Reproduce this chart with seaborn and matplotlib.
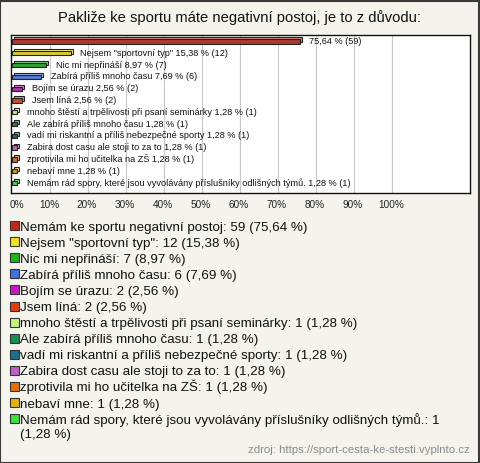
"""
Pakliže ke sportu máte negativní postoj - vodorovný sloupcový graf s legendou
"""

import matplotlib.pyplot as plt
from matplotlib.patches import Rectangle
import seaborn as sns

# data z obrázku
categories = [
    "Nemám ke sportu negativní postoj",
    'Nejsem "sportovní typ"',
    "Nic mi nepřináší",
    "Zabírá příliš mnoho času",
    "Bojím se úrazu",
    "Jsem líná",
    "mnoho štěstí a trpělivosti při psaní seminárky",
    "Ale zabírá příliš mnoho času",
    "vadí mi riskantní a příliš nebezpečné sporty",
    "Zabira dost casu ale stoji to za to",
    "zprotivila mi ho učitelka na ZŠ",
    "nebaví mne",
    "Nemám rád spory, které jsou vyvolávány příslušníky odlišných týmů.",
]
counts = [59, 12, 7, 6, 2, 2, 1, 1, 1, 1, 1, 1, 1]
percents = [75.64, 15.38, 8.97, 7.69, 2.56, 2.56, 1.28, 1.28, 1.28, 1.28, 1.28, 1.28, 1.28]
colors = [
    "#c0281c", "#f2e21c", "#1cb41c", "#4070e0", "#c41cc4", "#e0400c",
    "#c4f47c", "#1c8c50", "#1c7088", "#c060c4", "#e0700c", "#e4b00c", "#40e040",
]
tick_values = [0, 10, 20, 30, 40, 50, 60, 70, 80, 90, 100]
tick_labels = ["0%", "10%", "20%", "30%", "40%", "50%", "60%", "70%", "80%", "90%", "100%"]

title = "Pakliže ke sportu máte negativní postoj, je to z důvodu:"
source = "zdroj: https://sport-cesta-ke-stesti.vyplnto.cz"

W, H = 480, 463
BG = "#f4f3ec"


def fmt(v):
    return f"{v:.2f}".replace(".", ",")


def lighten(c, amount=0.45):
    r, g, b = [int(c[i:i + 2], 16) / 255 for i in (1, 3, 5)]
    return (r + (1 - r) * amount, g + (1 - g) * amount, b + (1 - b) * amount)


sns.set_style("white")
plt.rcParams["font.family"] = ["Liberation Sans", "DejaVu Sans"]

fig = plt.figure(figsize=(W / 100, H / 100), dpi=100)
fig.patch.set_facecolor(BG)

# oblast grafu
ax = fig.add_axes([11 / W, 1 - 193 / H, 459 / W, 158 / H])
ax.set_facecolor("white")

pos = list(range(len(categories)))

# "3D" hloubka sloupců - posunutý světlejší obdélník za sloupcem
ax.barh([p - 0.16 for p in pos], percents, left=0.55, height=0.36,
        color=[lighten(c) for c in colors], edgecolor="#222222", linewidth=0.8, zorder=2)

sns.barplot(x=percents, y=categories, hue=categories, palette=colors,
            orient="h", ax=ax, legend=False, width=0.36,
            edgecolor="#222222", linewidth=0.8, zorder=3)

for i, (cat, n, p) in enumerate(zip(categories, counts, percents)):
    txt = f"{fmt(p)} % ({n})" if i == 0 else f"{cat} {fmt(p)} % ({n})"
    ax.annotate(txt, xy=(p, i), xytext=(7, 0), textcoords="offset points",
                va="center", ha="left", fontsize=6.6, color="#111111", zorder=4)

ax.set_xlim(-0.3, 120.5)
ax.set_ylim(12.85, -0.55)
ax.set_xticks(tick_values[1:])
ax.set_xticklabels([])
ax.xaxis.grid(True, color="#c8c8c8", linewidth=0.8, zorder=0)
ax.set_axisbelow(True)
ax.set_yticks([])
ax.set_ylabel("")
ax.set_xlabel("")
for s in ax.spines.values():
    s.set_visible(True)
    s.set_color("#111111")
    s.set_linewidth(1.0)

# popisky osy x pod rámečkem
for v, lab in zip(tick_values, tick_labels):
    x_px = 11 + v * 3.8 + (6 if v == 0 else 0)
    fig.text(x_px / W, 1 - 205 / H, lab, ha="center", va="center", fontsize=7.2, color="#222222")

fig.text(0.5, 1 - 18 / H, title, ha="center", va="center", fontsize=10.6, color="#111111")

# legenda
y0, step = 225.5, 16.1
for i, (cat, n, p, c) in enumerate(zip(categories, counts, percents, colors)):
    y = y0 + i * step
    fig.add_artist(Rectangle((10 / W, 1 - (y + 4.5) / H), 9 / W, 9 / H,
                             transform=fig.transFigure, facecolor=c,
                             edgecolor="#333333", linewidth=0.8))
    label = f"{cat}: {n} ({fmt(p)} %)"
    if i == len(categories) - 1:
        label = f"{cat}: {n}\n({fmt(p)} %)"
    # první řádek: účaří 5 px pod středem čtverečku
    fig.text(20 / W, 1 - (y + 5) / H, label.split("\n")[0], ha="left", va="baseline",
             fontsize=9.6, color="#111111")
    if "\n" in label:
        fig.text(20 / W, 1 - (y + 5 + 14.5) / H, label.split("\n")[1], ha="left",
                 va="baseline", fontsize=9.6, color="#111111")

fig.text(470 / W, 1 - 450 / H, source, ha="right", va="center", fontsize=8.2, color="#8a8a8a")

# okraj obrázku
fig.add_artist(Rectangle((0.001, 0.001), 0.997, 0.997, transform=fig.transFigure,
                         fill=False, edgecolor="#3a3a3a", linewidth=1.5))

fig.savefig("out.png", dpi=100, facecolor=BG)
plt.close(fig)
